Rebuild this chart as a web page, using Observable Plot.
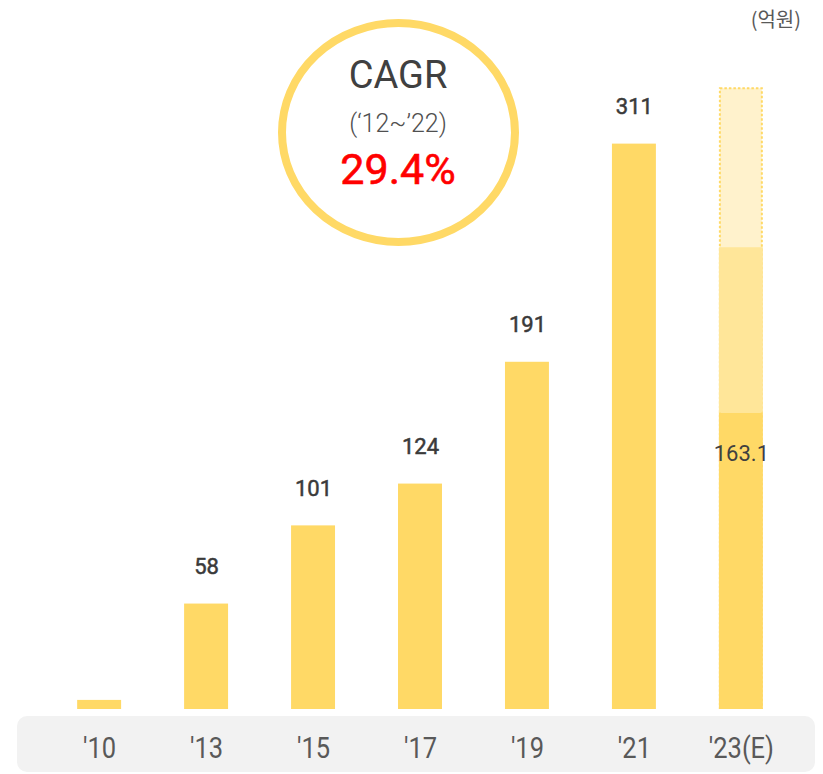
<!DOCTYPE html>
<html>
<head>
<meta charset="utf-8">
<script src="https://cdn.jsdelivr.net/npm/d3@7"></script>
<script src="https://cdn.jsdelivr.net/npm/@observablehq/plot@0.6"></script>
<style>
  html, body { margin: 0; padding: 0; background: #fff; }
  #wrap { position: relative; width: 823px; height: 774px; overflow: hidden; font-family: Roboto, "Noto Sans CJK KR", sans-serif; }
  #band { position: absolute; left: 17px; top: 716px; width: 798px; height: 56px; background: #F2F2F2; border-radius: 10px; }
  #chart { position: absolute; left: 0; top: 0; }
  #overlay { position: absolute; left: 0; top: 0; pointer-events: none; }
</style>
</head>
<body>
<div id="wrap">
  <div id="band"></div>
  <div id="chart"></div>
  <svg id="overlay" width="823" height="774" xmlns="http://www.w3.org/2000/svg">
    <ellipse cx="398.5" cy="132.5" rx="116.5" ry="109.5" fill="none" stroke="#FFD966" stroke-width="8"></ellipse>
    <text x="398" y="88" text-anchor="middle" font-family="Roboto" font-size="38" fill="#404040">CAGR</text>
    <text x="398" y="132" text-anchor="middle" font-family="Roboto" font-weight="300" font-size="25" fill="#505050">(‘12~’22)</text>
    <text x="398" y="184" text-anchor="middle" font-family="Roboto" font-size="43" fill="#FF0000" stroke="#FF0000" stroke-width="0.6">29.4%</text>
    <text x="801" y="27" text-anchor="end" font-family="'Noto Sans CJK KR', Roboto, sans-serif" font-size="20" fill="#595959">(억원)</text>
  </svg>
</div>
<script>
// ---- data ----
const categories = ["'10", "'13", "'15", "'17", "'19", "'21", "'23(E)"];
const values = [5, 58, 101, 124, 191, 311, 163.1];
const valueLabels = ["", "58", "101", "124", "191", "311", "163.1"];
// '23(E) estimate stack: solid value, mid-range top, upper-range top
const estimateCategory = "'23(E)";
const estimateLevels = [163.1, 254, 342];

// ---- build tables ----
const bars = categories.map((c, i) => ({cat: c, value: values[i], label: valueLabels[i]}));
const actualLabels = bars.filter(d => d.cat !== estimateCategory && d.label !== "");
const estLabel = bars.filter(d => d.cat === estimateCategory);
const estTop = [{cat: estimateCategory, y1: 0, y2: estimateLevels[2]}];
const estMid = [{cat: estimateCategory, y1: estimateLevels[0], y2: estimateLevels[1]}];

const chart = Plot.plot({
  width: 823,
  height: 774,
  marginTop: 0,
  marginBottom: 65,
  marginLeft: 18,
  marginRight: 1,
  style: {background: "transparent", fontFamily: "Roboto, sans-serif", overflow: "visible"},
  x: {type: "band", domain: categories, paddingInner: 0.589, paddingOuter: 0.553, round: false, axis: null},
  y: {domain: [0, 390], axis: null},
  marks: [
    Plot.rectY(estTop, {x: "cat", y1: "y1", y2: "y2", fill: "#FFF2CC", stroke: "#FFD966", strokeWidth: 2, strokeDasharray: "2.5 2", inset: 1}),
    Plot.barY(bars, {x: "cat", y: "value", fill: "#FFD966"}),
    Plot.rectY(estMid, {x: "cat", y1: "y1", y2: "y2", fill: "#FFE699"}),
    Plot.text(actualLabels, {x: "cat", y: "value", text: "label", dy: -37, fontSize: 22, fontWeight: 400, fill: "#3a3a3a", stroke: "#3a3a3a", strokeWidth: 0.5}),
    Plot.text(estLabel, {x: "cat", y: "value", text: "label", dy: 41, fontSize: 22, fontWeight: 400, fill: "#404040"}),
    Plot.axisX({tickSize: 0, tickPadding: 27, fontSize: 30, color: "#595959", label: null})
  ]
});
document.getElementById("chart").appendChild(chart);

function condense() {
  chart.querySelectorAll('[aria-label="x-axis tick label"] text').forEach(t => {
    t.removeAttribute("textLength");
    const len = t.getComputedTextLength();
    t.setAttribute("textLength", (len * 0.85).toFixed(1));
    t.setAttribute("lengthAdjust", "spacingAndGlyphs");
  });
}
condense();
if (document.fonts && document.fonts.ready) document.fonts.ready.then(condense);
</script>
</body>
</html>
